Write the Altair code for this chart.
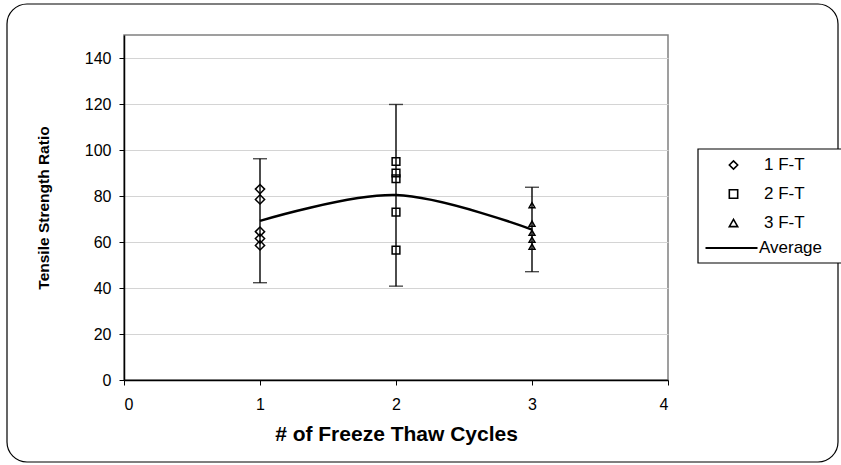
import altair as alt
import pandas as pd

# Tensile strength ratio measured after each number of freeze-thaw cycles
cycles = [1, 2, 3]
series_names = ["1 F-T", "2 F-T", "3 F-T"]
tsr_1ft = [83.0, 78.5, 64.5, 61.5, 58.5]
tsr_2ft = [95.0, 90.0, 87.5, 73.0, 56.5]
tsr_3ft = [76.0, 68.0, 64.0, 61.0, 58.0]
err_low = [42.3, 40.8, 47.1]
err_high = [96.2, 119.8, 83.8]

series_shapes = ["diamond", "square", "triangle-up"]
marker_sizes = [85, 60, 34]
line_label = ["Average"]
x_ticks = [0, 1, 2, 3, 4]
y_ticks = [0, 20, 40, 60, 80, 100, 120, 140]

FONT = "Liberation Sans"

rows = []
for c, name, vals in zip(cycles, series_names, [tsr_1ft, tsr_2ft, tsr_3ft]):
    for v in vals:
        rows.append({"cycles": c, "series": name, "tsr": v})
points = pd.DataFrame(rows)
bars = pd.DataFrame({"cycles": cycles, "lo": err_low, "hi": err_high})

x_scale = alt.Scale(domain=[0, 4], nice=False)
y_scale = alt.Scale(domain=[0, 150], nice=False)

x_enc = alt.X(
    "cycles:Q",
    scale=x_scale,
    axis=alt.Axis(
        values=x_ticks,
        title="# of Freeze Thaw Cycles",
        grid=False,
        format="d",
        labelPadding=11,
        titlePadding=11,
    ),
)

base_bars = alt.Chart(bars)

# vertical error bar stems
stems = base_bars.mark_rule(color="black", strokeWidth=1.4).encode(
    x=x_enc,
    y=alt.Y(
        "lo:Q",
        scale=y_scale,
        axis=alt.Axis(
            values=y_ticks,
            title="Tensile Strength Ratio",
            grid=True,
            labelPadding=8,
            titlePadding=33,
        ),
    ),
    y2="hi:Q",
)

# horizontal caps at both ends of each error bar
caps = (
    base_bars.transform_fold(["lo", "hi"], as_=["end", "value"])
    .mark_tick(color="black", orient="horizontal", size=14, thickness=1.4)
    .encode(x=alt.X("cycles:Q", scale=x_scale), y=alt.Y("value:Q", scale=y_scale))
)

# smoothed line through the mean at each cycle count
average = (
    alt.Chart(points)
    .transform_aggregate(avg="mean(tsr)", groupby=["cycles"])
    .transform_calculate(line_name=f"'{line_label[0]}'")
    .mark_line(strokeWidth=2.5, interpolate="catmull-rom")
    .encode(
        x=alt.X("cycles:Q", scale=x_scale),
        y=alt.Y("avg:Q", scale=y_scale),
        color=alt.Color(
            "line_name:N",
            scale=alt.Scale(domain=line_label, range=["black"]),
            legend=alt.Legend(
                title=None,
                symbolType="stroke",
                symbolSize=2704,
                symbolStrokeWidth=2.2,
                clipHeight=16,
                labelOffset=0,
                legendX=580,
                legendY=205,
            ),
        ),
    )
)

# individual specimens, hollow markers; one layer per series so each keeps its size
shape_enc = alt.Shape(
    "series:N",
    scale=alt.Scale(domain=series_names, range=series_shapes),
    legend=alt.Legend(
        title=None,
        symbolSize=70,
        symbolStrokeWidth=1.6,
        clipHeight=16,
        labelOffset=22,
        legendX=601,
        legendY=122,
    ),
)
marker_layers = [
    alt.Chart(points)
    .transform_filter(alt.datum.series == name)
    .mark_point(filled=False, color="black", strokeWidth=1.5, opacity=1, size=size)
    .encode(
        x=alt.X("cycles:Q", scale=x_scale),
        y=alt.Y("tsr:Q", scale=y_scale),
        shape=shape_enc,
    )
    for name, size in zip(series_names, marker_sizes)
]

# rounded frame around the whole figure
frame = (
    alt.Chart(pd.DataFrame({"frame": [0]}))
    .mark_rect(fill=None, stroke="black", strokeWidth=1.2, cornerRadius=20)
    .encode(
        x=alt.value(-117),
        x2=alt.value(714),
        y=alt.value(-31),
        y2=alt.value(427),
    )
)

# box behind the legend entries
legend_box = (
    alt.Chart(pd.DataFrame({"box": [0]}))
    .mark_rect(fill="white", stroke="black", strokeWidth=1.2)
    .encode(
        x=alt.value(574),
        x2=alt.value(722),
        y=alt.value(114),
        y2=alt.value(228),
    )
)

chart = (
    alt.layer(frame, stems, caps, average, *marker_layers, legend_box)
    .properties(
        width=544,
        height=345,
        autosize=alt.AutoSizeParams(type="none"),
        padding={"left": 124, "top": 35, "right": 173, "bottom": 85},
        background="white",
    )
    .configure_view(stroke="#808080", strokeWidth=1.5)
    .configure_axis(
        labelFont=FONT,
        labelFontSize=16,
        labelColor="black",
        titleFont=FONT,
        titleFontWeight="bold",
        titleColor="black",
        domainColor="black",
        domainWidth=1.5,
        tickColor="black",
        tickSize=5,
        gridColor="#d4d4d4",
        gridWidth=1,
    )
    .configure_axisX(titleFontSize=21)
    .configure_axisY(titleFontSize=15.5)
    .configure_legend(
        orient="none",
        padding=0,
        labelFont=FONT,
        labelFontSize=17,
        labelColor="black",
        symbolStrokeColor="black",
        symbolFillColor="white",
        rowPadding=12,
    )
)

chart.save("out.html", embed_options={"renderer": "svg", "actions": False})
